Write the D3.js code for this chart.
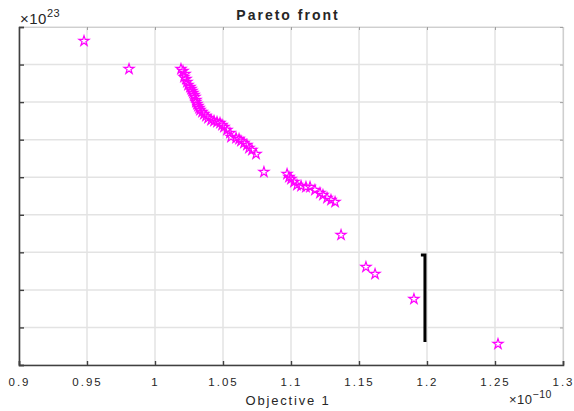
<!DOCTYPE html>
<html>
<head>
<meta charset="utf-8">
<script src="https://cdn.jsdelivr.net/npm/d3@7"></script>
<style>
  body { margin: 0; background: #fff; }
  text { font-family: 'Liberation Sans', Arial, sans-serif; fill: #262626; }
</style>
</head>
<body>
<div class="canvas"></div>
<script>
// objective 1 (x 1e-10) and objective 2 (x 1e23)
const obj1 = [
    0.9478, 0.9809,
    1.0191, 1.0206, 1.0221, 1.0213, 1.0228, 1.0235, 1.0243, 1.0257, 1.0265, 1.0272,
    1.0279, 1.0287, 1.0294, 1.0301, 1.0301, 1.0309, 1.0316, 1.0324, 1.0331, 1.0346,
    1.0360, 1.0375, 1.0390, 1.0412, 1.0434, 1.0456, 1.0478, 1.0493, 1.0507, 1.0529,
    1.0551, 1.0559, 1.0596, 1.0618, 1.0632, 1.0654, 1.0676, 1.0691, 1.0713, 1.0743,
    1.0801,
    1.0971, 1.0985, 1.1000, 1.1022, 1.1044, 1.1074, 1.1110, 1.1140, 1.1176, 1.1213,
    1.1235, 1.1265, 1.1294, 1.1324,
    1.1368, 1.1551, 1.1618, 1.1904, 1.2522
]
const obj2 = [
    1.9627, 1.8882,
    1.8882, 1.8828, 1.8748, 1.8669, 1.8615, 1.8535, 1.8456, 1.8402, 1.8349, 1.8296,
    1.8243, 1.8189, 1.8136, 1.8056, 1.8003, 1.7950, 1.7896, 1.7843, 1.7790, 1.7737,
    1.7683, 1.7630, 1.7577, 1.7524, 1.7497, 1.7470, 1.7444, 1.7390, 1.7337, 1.7257,
    1.7177, 1.7071, 1.7044, 1.7018, 1.6964, 1.6911, 1.6858, 1.6778, 1.6725, 1.6618,
    1.6139,
    1.6086, 1.6006, 1.5953, 1.5873, 1.5793, 1.5766, 1.5740, 1.5740, 1.5660, 1.5580,
    1.5527, 1.5447, 1.5393, 1.5340,
    1.4462, 1.3609, 1.3423, 1.2757, 1.1559
]

// the black bar drawn near x = 1.2
const barX = [1.1955, 1.1985, 1.1985]
const barY = [1.3929, 1.3929, 1.1612]

const xTicks = [0.9, 0.95, 1, 1.05, 1.1, 1.15, 1.2, 1.25, 1.3]
const yTicks = d3.range(1.1, 2.0001, 0.1)

const data = obj1.map((d, i) => ({ x: d, y: obj2[i] }))

const width = 574
const height = 411
const margin = { top: 27, right: 11, bottom: 46, left: 19 }
const graphWidth = width - margin.left - margin.right
const graphHeight = height - margin.top - margin.bottom

const svg = d3.select('.canvas')
    .append('svg')
    .attr('width', width)
    .attr('height', height)

const graph = svg.append('g')
    .attr('transform', `translate(${margin.left}, ${margin.top})`)

// scales
const x = d3.scaleLinear()
    .domain([0.9, 1.3])
    .range([0, graphWidth])

const y = d3.scaleLinear()
    .domain([1.1, 2.0])
    .range([graphHeight, 0])

// grid
graph.append('g')
    .selectAll('line')
    .data(xTicks)
    .enter().append('line')
    .attr('x1', d => x(d)).attr('x2', d => x(d))
    .attr('y1', 0).attr('y2', graphHeight)
    .attr('stroke', '#e3e3e3')
    .attr('stroke-width', 1.5)

graph.append('g')
    .selectAll('line')
    .data(yTicks)
    .enter().append('line')
    .attr('x1', 0).attr('x2', graphWidth)
    .attr('y1', d => y(d)).attr('y2', d => y(d))
    .attr('stroke', '#e3e3e3')
    .attr('stroke-width', 1.5)

// box top and right
const topAxis = graph.append('g')
    .call(d3.axisTop(x).tickValues(xTicks).tickSize(-3).tickFormat(''))
topAxis.select('.domain').attr('stroke', '#cfcfcf').attr('stroke-width', 1.2)
topAxis.selectAll('line').attr('stroke', '#a0a0a0')

const rightAxis = graph.append('g')
    .attr('transform', `translate(${graphWidth}, 0)`)
    .call(d3.axisRight(y).tickValues(yTicks).tickSize(-3).tickFormat(''))
rightAxis.select('.domain').attr('stroke', '#cfcfcf').attr('stroke-width', 1.2)
rightAxis.selectAll('line').attr('stroke', '#a0a0a0')

// axes
const xAxisGroup = graph.append('g')
    .attr('transform', `translate(0, ${graphHeight})`)
    .call(d3.axisBottom(x).tickValues(xTicks).tickSize(-4).tickPadding(13)
        .tickFormat(d3.format('~g')))
xAxisGroup.select('.domain').attr('stroke', '#404040').attr('stroke-width', 1.6)
xAxisGroup.selectAll('line').attr('stroke', '#404040').attr('stroke-width', 1.4)
xAxisGroup.selectAll('text')
    .attr('font-size', 11.5)
    .attr('letter-spacing', '2px')
    .attr('fill', '#262626')

const yAxisGroup = graph.append('g')
    .call(d3.axisLeft(y).tickValues(yTicks).tickSize(-5).tickFormat(''))
yAxisGroup.select('.domain').attr('stroke', '#404040').attr('stroke-width', 1.6)
yAxisGroup.selectAll('line').attr('stroke', '#404040').attr('stroke-width', 1.4)

// bar
const barLine = d3.line()
    .x(d => x(d[0]))
    .y(d => y(d[1]))
graph.append('path')
    .attr('d', barLine(barX.map((d, i) => [d, barY[i]])))
    .attr('fill', 'none')
    .attr('stroke', '#000')
    .attr('stroke-width', 3)

// stars
const star = d3.symbol().type(d3.symbolStar).size(32)
graph.selectAll('path.pt')
    .data(data)
    .enter().append('path')
    .attr('class', 'pt')
    .attr('d', star)
    .attr('transform', d => `translate(${x(d.x)}, ${y(d.y)})`)
    .attr('fill', 'none')
    .attr('stroke', '#ff00ff')
    .attr('stroke-width', 1.2)

// title and labels
svg.append('text')
    .attr('x', 288).attr('y', 20)
    .attr('text-anchor', 'middle')
    .attr('font-size', 14)
    .attr('font-weight', 'bold')
    .attr('letter-spacing', '2px')
    .attr('fill', '#000')
    .text('Pareto front')

svg.append('text')
    .attr('x', 288).attr('y', 405)
    .attr('text-anchor', 'middle')
    .attr('font-size', 13)
    .attr('letter-spacing', '1.8px')
    .text('Objective 1')

const yExp = svg.append('text')
    .attr('x', 20).attr('y', 24)
    .attr('font-size', 15)
    .attr('letter-spacing', '0.5px')
yExp.append('tspan').text('\u00d710')
yExp.append('tspan').attr('dy', -7).attr('font-size', 11).text('23')

const xExp = svg.append('text')
    .attr('x', 509).attr('y', 404)
    .attr('font-size', 13)
    .attr('letter-spacing', '0.5px')
xExp.append('tspan').text('\u00d710')
xExp.append('tspan').attr('dy', -6).attr('font-size', 10.5).text('\u221210')
</script>
</body>
</html>
